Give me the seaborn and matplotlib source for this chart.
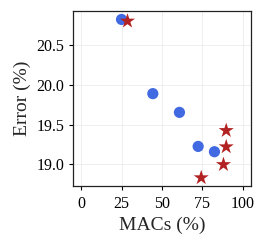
import pandas as pd
import matplotlib.pyplot as plt
import seaborn as sns

# baseline (circles) and ours (stars)
base_macs = [25.0, 44.4, 60.9, 72.5, 82.6]
base_err = [20.825, 19.89, 19.654, 19.225, 19.158]
ours_macs = [28.7, 89.9, 89.9, 88.2, 74.4]
ours_err = [20.804, 19.425, 19.22, 18.996, 18.83]

x_ticks = [0, 25, 50, 75, 100]
y_ticks = [19.0, 19.5, 20.0, 20.5]

df = pd.DataFrame({
    "macs": base_macs + ours_macs,
    "err": base_err + ours_err,
    "method": ["base"] * len(base_macs) + ["ours"] * len(ours_macs),
})

sns.set_style("whitegrid")
plt.rcParams["font.family"] = ["Liberation Serif", "DejaVu Serif"]

fig, ax = plt.subplots(figsize=(2.66, 2.47), dpi=100)

sns.scatterplot(data=df[df.method == "base"], x="macs", y="err", ax=ax,
                color="#4169E1", marker="o", s=65, edgecolor="none", zorder=3)
sns.scatterplot(data=df[df.method == "ours"], x="macs", y="err", ax=ax,
                color="#B22222", marker="*", s=130, edgecolor="none", zorder=3)

ax.set_xlim(-5, 105)
ax.set_ylim(18.72, 20.93)
ax.set_xticks(x_ticks)
ax.set_yticks(y_ticks)
ax.set_xlabel("MACs (%)", fontsize=14)
ax.set_ylabel("Error (%)", fontsize=14)
ax.tick_params(labelsize=11.5, length=3, color="black", labelcolor="black",
               left=True, bottom=True)
ax.grid(True, color="#ebebeb", linewidth=0.6)
for sp in ax.spines.values():
    sp.set_color("#222222")
    sp.set_linewidth(0.9)

fig.subplots_adjust(left=0.275, right=0.942, top=0.955, bottom=0.245)
fig.savefig("out.png", dpi=100)
